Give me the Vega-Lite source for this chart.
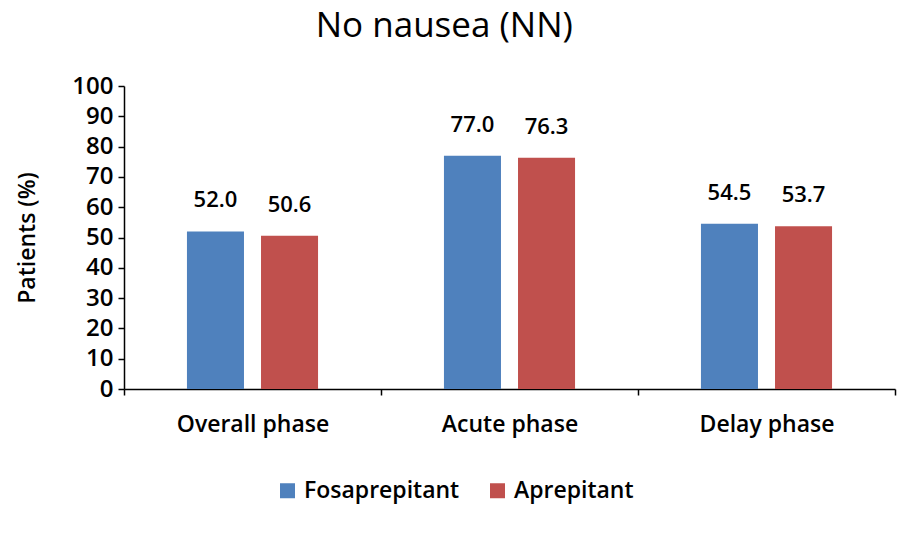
{
  "$schema": "https://vega.github.io/schema/vega-lite/v6.json",
  "autosize": {"type": "none"},
  "padding": {"left": 124, "top": 86, "right": 28, "bottom": 148},
  "width": 771,
  "height": 303,
  "background": "white",
  "config": {"font": "Open Sans", "view": {"stroke": null}},
  "title": {"text": "No nausea (NN)", "fontSize": 35, "font": "Open Sans", "fontWeight": "normal", "color": "#000", "frame": "bounds", "anchor": "middle", "offset": 30, "dx": -12},
  "data": {"values": [
    {"phase": "Overall phase", "group": "Fosaprepitant", "value": 52.0},
    {"phase": "Overall phase", "group": "Aprepitant", "value": 50.6},
    {"phase": "Acute phase", "group": "Fosaprepitant", "value": 77.0},
    {"phase": "Acute phase", "group": "Aprepitant", "value": 76.3},
    {"phase": "Delay phase", "group": "Fosaprepitant", "value": 54.5},
    {"phase": "Delay phase", "group": "Aprepitant", "value": 53.7}
  ]},
  "encoding": {
    "x": {"field": "phase", "type": "nominal", "sort": ["Overall phase", "Acute phase", "Delay phase"],
      "scale": {"paddingInner": 0, "paddingOuter": 0},
      "axis": {"title": null, "labelAngle": 0, "labelFontSize": 23, "labelFontWeight": 600, "labelColor": "#000", "labelPadding": 18, "domainColor": "#000", "domainWidth": 1.5, "tickColor": "#000", "tickBand": "extent", "tickSize": 6, "tickWidth": 1.5}},
    "xOffset": {"field": "group", "type": "nominal", "sort": ["Fosaprepitant", "Aprepitant"], "scale": {"paddingInner": 0.23, "paddingOuter": 0.85}},
    "y": {"field": "value", "type": "quantitative", "scale": {"domain": [0, 100]},
      "axis": {"title": "Patients (%)", "titleFontSize": 23, "titleFontWeight": 600, "titleColor": "#000", "titlePadding": 32, "values": [0,10,20,30,40,50,60,70,80,90,100], "labelFontSize": 24, "labelFontWeight": 600, "labelColor": "#000", "labelPadding": 5, "grid": false, "domainColor": "#000", "domainWidth": 1.5, "tickColor": "#000", "tickSize": 6, "tickWidth": 1.5}}
  },
  "layer": [
    {"mark": {"type": "bar"},
     "encoding": {"color": {"field": "group", "type": "nominal", "sort": ["Fosaprepitant", "Aprepitant"],
       "scale": {"domain": ["Fosaprepitant", "Aprepitant"], "range": ["#4F81BD", "#C0504D"]},
       "legend": {"title": null, "orient": "none", "legendX": 152, "legendY": 393, "direction": "horizontal", "symbolType": "square", "symbolSize": 225, "symbolStrokeWidth": 0, "labelFontSize": 23, "labelFontWeight": 600, "labelColor": "#000", "columnPadding": 26, "labelOffset": 5}}}},
    {"mark": {"type": "text", "baseline": "bottom", "dy": -19, "fontSize": 22, "fontWeight": 600, "color": "#000"},
     "encoding": {"text": {"field": "value", "type": "quantitative", "format": ".1f"}}}
  ]
}
